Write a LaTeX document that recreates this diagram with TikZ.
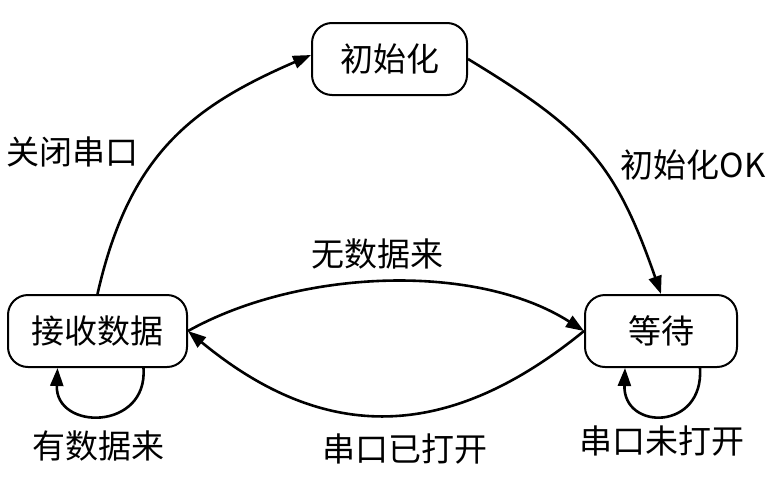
\documentclass[tikz,border=0pt]{standalone}
\usepackage{fontspec}
\setmainfont{Noto Sans CJK SC}
\usetikzlibrary{arrows.meta}
\begin{document}
\begin{tikzpicture}[x=1pt,y=-1pt,
  state/.style={draw, line width=2pt, rounded corners=20pt, minimum height=72pt, inner sep=0pt, font=\fontsize{33}{38}\selectfont},
  lbl/.style={font=\fontsize{33}{38}\selectfont, inner sep=0pt},
  trans/.style={line width=2.6pt, -{Triangle[length=18pt,width=13pt]}}]
\useasboundingbox (0,0) rectangle (778,477);
\fill[white] (0,0) rectangle (778,477);

\node[state, minimum width=155pt] (init) at (389.5,59) {初始化};
\node[state, minimum width=179pt] (recv) at (97.5,331) {接收数据};
\node[state, minimum width=152pt] (wait) at (661,331) {等待};

\draw[trans] (recv.north) .. controls (129,155) and (191,107) .. ([yshift=4pt]init.west);
\draw[trans] (init.east) .. controls (585,130) and (615,162) .. (wait.north);
\draw[trans] (recv.east) .. controls (299,269) and (476,262) .. (wait.west);
\draw[trans] (wait.west) .. controls (448,442) and (325,444) .. (recv.east);
\draw[trans] ([xshift=46pt]recv.south) .. controls (148,431) and (55,431) .. ([xshift=-40pt]recv.south);
\draw[trans] ([xshift=39pt]wait.south) .. controls (704,431) and (623,431) .. ([xshift=-36pt]wait.south);

\node[lbl] (l1) at (72,152) {关闭串口};
\node[lbl] (l2) at (693,165) {初始化OK};
\node[lbl] (l3) at (377,254) {无数据来};
\node[lbl] (l4) at (405,449) {串口已打开};
\node[lbl] (l5) at (98,446) {有数据来};
\node[lbl] (l6) at (662,441) {串口未打开};
\end{tikzpicture}
\end{document}
